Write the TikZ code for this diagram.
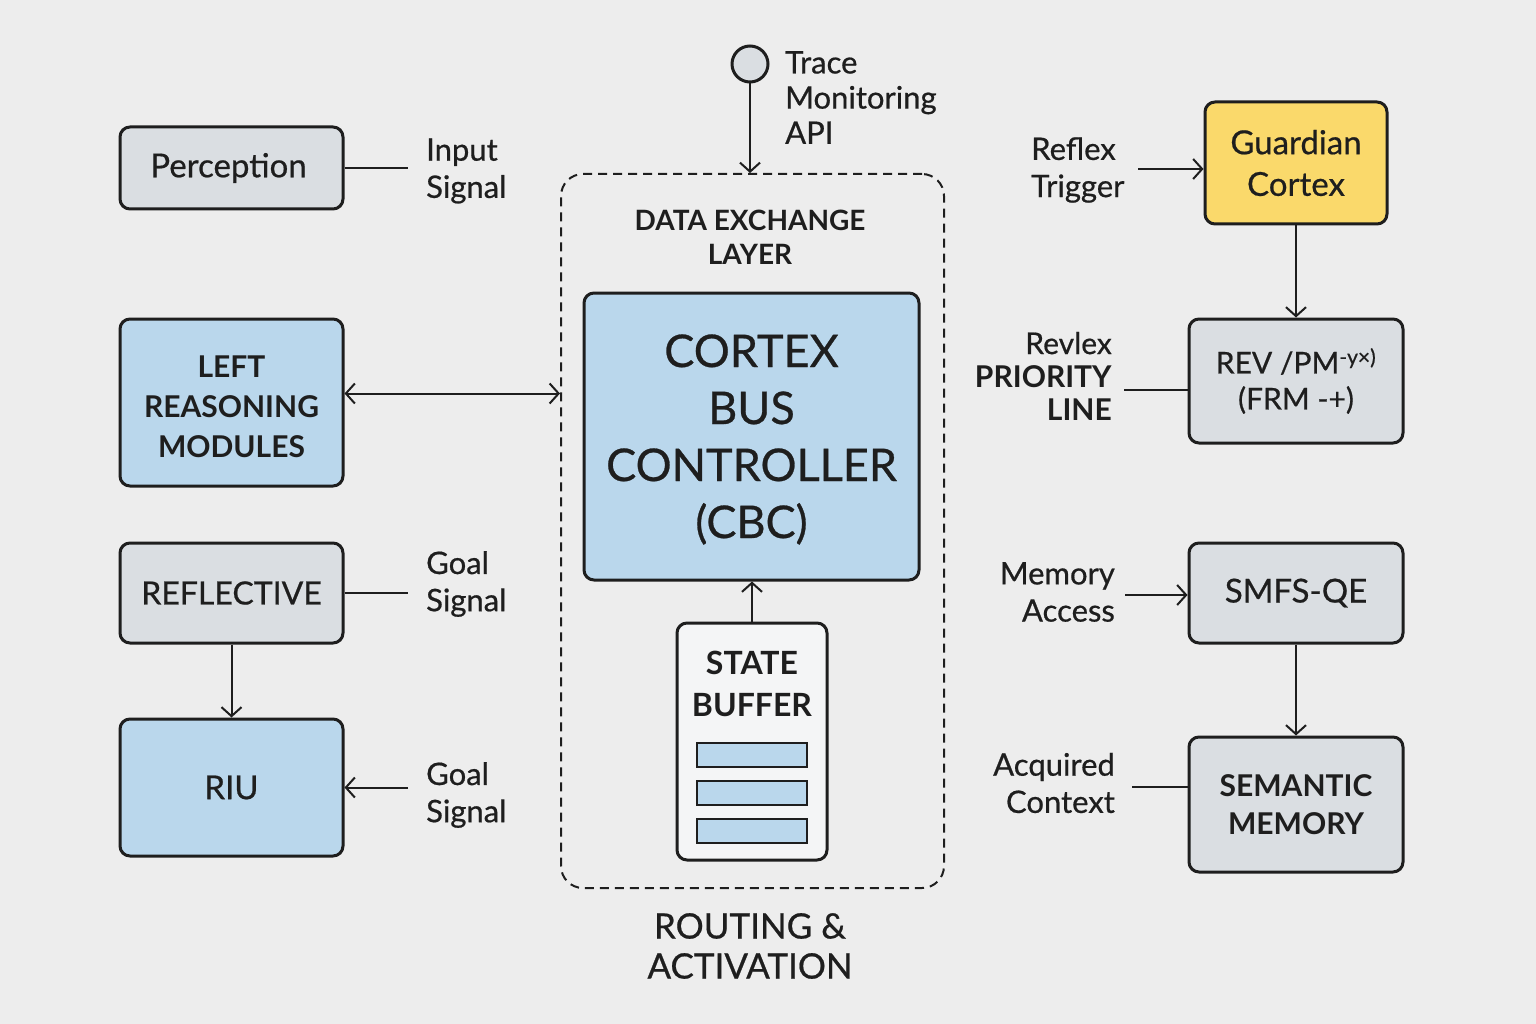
\documentclass[tikz,border=0pt]{standalone}
\usepackage{fontspec}
\setmainfont{Lato}[UprightFeatures={FakeBold=0.6}]
\usetikzlibrary{arrows.meta}
\definecolor{bg}{HTML}{EDEDED}
\definecolor{ink}{HTML}{1E1E1E}
\definecolor{boxgray}{HTML}{DADEE2}
\definecolor{boxblue}{HTML}{BAD7EC}
\definecolor{boxyellow}{HTML}{FAD96B}
\definecolor{bufwhite}{HTML}{F4F5F6}
\newcommand{\fs}[1]{\fontsize{#1pt}{\dimexpr #1pt*6/5\relax}\selectfont}
\tikzset{
  box/.style={draw=ink, line width=3pt, rounded corners=10pt, align=center, inner sep=0pt, text=ink},
  graybox/.style={box, fill=boxgray},
  bluebox/.style={box, fill=boxblue},
  txt/.style={align=center, inner sep=0pt, text=ink},
  lab/.style={align=left, inner sep=0pt, text=ink, font=\fs{31}},
  rlab/.style={align=right, inner sep=0pt, text=ink, font=\fs{31}},
  conn/.style={draw=ink, line width=2pt},
  arr/.style={conn, -{Straight Barb[length=9pt,width=20pt,line width=2pt]}},
  darr/.style={conn, {Straight Barb[length=9pt,width=20pt,line width=2pt]}-{Straight Barb[length=9pt,width=20pt,line width=2pt]}},
}
\begin{document}
\begin{tikzpicture}[x=1pt,y=-1pt]
\useasboundingbox (0,0) rectangle (1536,1024);
\fill[bg] (0,0) rectangle (1536,1024);

% left column
\node[graybox, minimum width=223pt, minimum height=82pt, font=\fs{33}] (perc) at (231.5,168) {Perception\hspace*{6pt}};
\node[bluebox, minimum width=223pt, minimum height=167pt] (left) at (231.5,402.5) {};
\node[txt, font=\bfseries\fs{30}] (lefttxt) at ([yshift=-4pt]left.center) {LEFT\\[4pt]REASONING\\[4pt]MODULES};
\node[graybox, minimum width=223pt, minimum height=100pt, font=\fs{32}] (refl) at (231.5,593) {REFLECTIVE};
\node[bluebox, minimum width=223pt, minimum height=137pt, font=\fs{33}] (riu) at (231.5,787.5) {RIU};

\node[lab, anchor=west] (in) at (426,171) {Input\\Signal};
\node[lab, anchor=west] (goal1) at (426,584) {Goal\\Signal};
\node[lab, anchor=west] (goal2) at (426,795) {Goal\\Signal};

\draw[conn, shorten >=18pt] (perc.east) -- (perc.east -| in.west);
\draw[conn, shorten >=18pt] (refl.east) -- (refl.east -| goal1.west);
\draw[arr] (refl.south) -- (riu.north);
\draw[arr, shorten <=18pt] (riu.east -| goal2.west) -- (riu.east);

% center
\node[draw=ink, line width=2pt, dashed, dash pattern=on 9pt off 6pt, rounded corners=22pt, minimum width=383pt, minimum height=714pt, inner sep=0pt] (layer) at (752.5,531) {};
\node[txt, font=\bfseries\fs{28}] (dlab) at (750,237) {DATA EXCHANGE\\LAYER};
\node[bluebox, minimum width=335pt, minimum height=287pt] (cbc) at (751.5,436.5) {};
\node[txt, font=\fs{45}] (cbctxt) at ([yshift=-3pt]cbc.center) {CORTEX\\[3pt]BUS\\[3pt]CONTROLLER\\[3pt](CBC)};
\node[box, fill=bufwhite, minimum width=150pt, minimum height=237pt] (buf) at (752,741.5) {};
\node[txt, font=\bfseries\fs{32}] (buflab) at (752,684) {STATE\\[4pt]BUFFER};
\foreach \y/\n in {755/b1,793/b2,831/b3}{
  \node[draw=ink, line width=2pt, fill=boxblue, minimum width=110pt, minimum height=24pt, inner sep=0pt] (\n) at (752,\y) {};
}
\draw[arr] (buf.north) -- (buf.north |- cbc.south);
\node[draw=ink, line width=3pt, fill=boxgray, circle, minimum size=36pt, inner sep=0pt] (trace) at (750,64) {};
\node[lab, anchor=north west] (tlab) at (785,51) {Trace\\[-2pt]Monitoring\\[-2pt]API};
\draw[arr] (trace.south) -- (trace.south |- layer.north);
\draw[darr] ([yshift=9pt]left.east) -- ([yshift=9pt]left.east -| layer.west);
\node[txt, font=\fs{35}] (route) at (750,946) {ROUTING \&\\[-2pt]ACTIVATION};

% right column
\node[box, fill=boxyellow, minimum width=182pt, minimum height=122pt, font=\fs{33}] (guard) at (1296,163) {Guardian\\[2pt]Cortex};
\node[graybox, minimum width=214pt, minimum height=124pt, font=\fs{30}] (rev) at (1296,381) {REV /PM\textsuperscript{-y×)}\\(FRM -+)};
\node[graybox, minimum width=214pt, minimum height=100pt, font=\fs{33}] (smfs) at (1296,593) {SMFS-QE};
\node[graybox, minimum width=214pt, minimum height=135pt, font=\bfseries\fs{30}] (sem) at (1296,804.5) {SEMANTIC\\[2pt]MEMORY};

\node[lab, anchor=west] (rt) at (1031,170) {Reflex\\Trigger};
\node[rlab, anchor=east, font=\fs{30}] (rp) at (1112,376) {Revlex\\[-3pt]\textbf{PRIORITY}\\[-3pt]\textbf{LINE}};
\node[rlab, anchor=east] (ma) at (1115,592) {Memory\\Access};
\node[rlab, anchor=east] (ac) at (1115,783) {Acquired\\Context};

\draw[arr] (1138,169) -- (1138,169 -| guard.west);
\draw[arr] (guard.south) -- (rev.north);
\draw[conn, shorten <=12pt] ([yshift=-9pt]rp.east |- rev.west) -- ([yshift=-9pt]rev.west);
\draw[arr, shorten <=10pt] ([yshift=-2pt]ma.east |- smfs.west) -- ([yshift=-2pt]smfs.west);
\draw[arr] (smfs.south) -- (sem.north);
\draw[conn, shorten <=17pt] ([yshift=18pt]ac.east |- sem.west) -- ([yshift=18pt]sem.west);
\end{tikzpicture}
\end{document}
